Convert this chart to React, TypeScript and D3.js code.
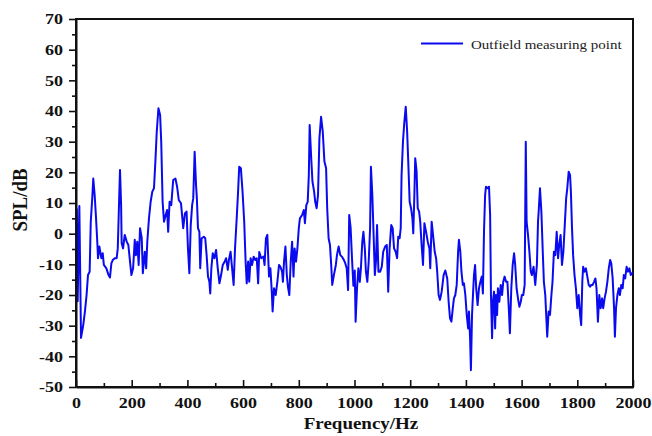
import React, { useEffect, useRef } from 'react';
import * as d3 from 'd3';

// Frequency (Hz) and SPL (dB)
const freqs = [
  0, 3, 6, 12, 18, 26, 32, 38, 43, 49, 53, 59, 62, 67, 72, 77, 79, 84, 91, 96,
  100, 109, 117, 122, 127, 132, 139, 146, 150, 153, 158, 162, 164, 169, 175, 182, 188, 194, 199,
  205, 211, 215, 220, 225, 230, 236, 240, 247, 252, 256, 262, 268, 274, 280, 285, 290, 296,
  302, 306, 311, 316, 322, 327, 331, 336, 342, 349, 357, 363, 369, 377, 385, 391, 397,
  402, 407, 412, 417, 421, 426, 431, 434, 438, 443, 446, 451, 459, 464, 469, 474, 479, 482, 486, 491, 497,
  503, 509, 515, 521, 527, 534, 539, 545, 549, 555, 560, 566, 571, 577, 582, 586, 592, 598,
  604, 609, 613, 618, 622, 627, 632, 638, 644, 649, 654, 658, 665, 673, 677, 682, 687, 693, 698,
  703, 706, 711, 717, 723, 729, 734, 740, 743, 747, 752, 757, 761, 766, 771, 776, 781, 785, 790, 795,
  800, 804, 812, 818, 822, 827, 832, 836, 839, 844, 849, 855, 859, 864, 869, 874, 880, 886, 892, 898,
  902, 907, 912, 917, 920, 926, 933, 937, 943, 949, 955, 962, 967, 972, 977, 981, 986, 991, 996,
  1001, 1004, 1009, 1014, 1019, 1023, 1028, 1032, 1037, 1041, 1046, 1051, 1056, 1059, 1064, 1069, 1073, 1077, 1081, 1086, 1092, 1098,
  1103, 1110, 1116, 1121, 1126, 1132, 1137, 1142, 1148, 1153, 1157, 1162, 1166, 1169, 1174, 1179, 1184, 1189, 1193, 1198,
  1203, 1208, 1211, 1215, 1218, 1223, 1227, 1232, 1236, 1241, 1246, 1251, 1257, 1263, 1269, 1272, 1277, 1282, 1288, 1293, 1297,
  1302, 1307, 1313, 1320, 1326, 1333, 1338, 1343, 1348, 1353, 1357, 1362, 1367, 1372, 1375, 1380, 1384, 1389, 1393, 1398,
  1403, 1408, 1411, 1415, 1418, 1422, 1426, 1429, 1433, 1437, 1442, 1447, 1452, 1457, 1461, 1465, 1469, 1472, 1478, 1483, 1487, 1490, 1494, 1497,
  1501, 1505, 1508, 1512, 1515, 1520, 1525, 1530, 1534, 1539, 1544, 1549, 1554, 1558, 1563, 1568, 1573, 1577, 1582, 1587, 1592, 1597,
  1601, 1606, 1611, 1615, 1618, 1623, 1628, 1633, 1637, 1643, 1649, 1655, 1659, 1662, 1666, 1671, 1676, 1680, 1685, 1690, 1692, 1697,
  1702, 1707, 1711, 1716, 1721, 1726, 1731, 1735, 1740, 1745, 1750, 1755, 1760, 1764, 1769, 1774, 1777, 1781, 1785, 1790, 1795,
  1800, 1805, 1810, 1814, 1818, 1821, 1826, 1831, 1836, 1841, 1846, 1850, 1855, 1860, 1865, 1869, 1874, 1879, 1884, 1889, 1893, 1898,
  1903, 1908, 1913, 1918, 1922, 1927, 1932, 1935, 1939, 1944, 1949, 1953, 1958, 1963, 1967, 1972, 1977, 1982, 1987, 1992, 1996, 2000,
];

const spl = [
  -5, 8, -22, 9, -34, -29.8, -25.4, -20, -13.5, -12.4, 3.9, 12.6, 18, 12.6, 5, -3.7, -8, -4.2, -8, -6.4,
  -10.2, -11.3, -13.5, -14.3, -9.7, -8.6, -8, -8, -4.8, 5, 20.8, 9.3, -3.1, -4.8, -0.4, -2.6, -3.7, -9.1, -13.5,
  -11.3, -2, -7, -2.6, -10.2, 1.8, -1.5, -12.9, -5.9, -11.3, -2.6, 5, 10.4, 13.7, 14.8, 23.5, 33.3, 40.9,
  38.7, 30, 10.4, 3.9, 6.1, 7.7, 0.6, 10.4, 9.3, 17.5, 18, 15.3, 11, 9.9, 1.8, 6.6, 7.2,
  -4.8, -12.9, 2.8, 9.3, 11.5, 26.7, 15.9, 11.5, 1.8, 0.6, -11.3, -1.5, -1, -1.5, -7, -14, -15.7, -19.5, -11.3, -6.4, -8,
  -5.3, -11.3, -16.2, -13.5, -10.2, -9.1, -8, -11.8, -8.6, -5.9, -10.8, -16.7, -4.8, 5, 13.7, 21.8, 21.3, 13.7,
  3.9, -9.1, -16.2, -9.1, -15.7, -8, -10.2, -7.5, -8.6, -8, -16.2, -6, -8, -7.5, -10.2, -1.5, -0.4, -14, -11.3,
  -18.9, -25.4, -17.8, -20, -15.7, -10.2, -10.8, -12.4, -15.7, -9.1, -4.2, -13.5, -17.3, -20, -9.1, -2.6, -14, -4.8, -9.1, -4.8,
  1.8, 5, 6.1, 7.7, 3.4, 9.3, 10.4, 19.1, 35.4, 25.6, 17, 13.7, 10.4, 8.3, 12.6, 31.1, 38.1, 33.3, 23.5, 21.3,
  8.3, -1.5, -3.7, -11.3, -16.7, -13.5, -10.2, -7, -4.2, -7, -7.5, -8.6, -9.7, -11.3, -18.4, 6.1, 2, -8, -17,
  -12, -28.7, -17.8, -11.3, -15.7, -11.3, -2.6, 0.6, -4.8, -12.4, -15.7, -9.1, 1.8, 21.8, 12.6, -1.5, -13.5, -9.1, 2.8, -12.4, -12.4, -10.8,
  -5.9, -4.2, -3.7, -18.9, -4.8, 2.8, 1.8, -4.8, -5.9, -8, -1, -1.5, 1.8, 19.1, 30, 36.5, 41.4, 33.3, 23.5, 10.4,
  8.3, 5, 0.1, 12.6, 24.6, 20.2, 8.3, 7.2, 3.9, -3.7, -10.2, 3.4, 0.6, -2.6, -4.8, -11.3, 3.9, -0.4, -5.9, -8, -12.4,
  -20, -21.6, -18.9, -13.5, -12, -14.6, -22.2, -27.6, -28.7, -24.3, -21.1, -20, -16.7, -5.9, -2, -5.9, -12.4, -16.7, -16.2, -20,
  -26.5, -30.9, -25.4, -34.1, -44.5, -26.5, -18.9, -13.5, -10.2, -17.8, -23.3, -17.8, -15.7, -14, -19.5, 0.6, 12.6, 15.3, 14.8, 15.3, 6.1, -20, -34.1, -22.2,
  -18.9, -30.9, -20, -26.5, -17.8, -22.2, -16.7, -20, -15.7, -14, -15.7, -15.7, -24.3, -32.5, -17.8, -10.2, -6.4, -10.2, -17.8, -21.1, -23.8, -22.2,
  -20, -20, -16.7, 30, 3.9, -0.4, -5.9, -12.4, -13.5, -10.8, -16.7, -10, 4, 8.3, 14.8, 7.2, -5.9, -15.7, -20, -29.8, -33.6, -25.4,
  -26.5, -20, -15.7, -5.9, -7, 0.6, -8, -3.7, -0.4, -10.2, -5.9, 2.8, 11.5, 14.8, 20.2, 19.1, 13.7, 1.8, -7, -13.5, -17.8,
  -24.3, -20, -26.5, -29.8, -15.7, -10.8, -12.4, -11.3, -14, -16.7, -17.3, -16.7, -16.7, -15.7, -14.6, -17.8, -28.7, -20, -24.3, -21.1, -24.3, -21.1,
  -18.9, -15.7, -11.3, -8.6, -9.7, -14.6, -24.3, -33.6, -24.3, -20, -17.8, -20, -16.7, -17.8, -13.5, -14.6, -10.8, -12.4, -11.3, -13.5, -12.9, -13,
];

const xTicks = [0, 200, 400, 600, 800, 1000, 1200, 1400, 1600, 1800, 2000];
const yTicks = [-50, -40, -30, -20, -10, 0, 10, 20, 30, 40, 50, 60, 70];
const seriesName = 'Outfield measuring point';
const xTitle = 'Frequency/Hz';
const yTitle = 'SPL/dB';

const SERIF = '"Liberation Serif", "Times New Roman", serif';
const BLUE = '#0a0af0';

const SpectrumChart = () => {
  const svgRef = useRef<SVGSVGElement>(null);

  useEffect(() => {
    const left = 76, right = 633, top = 19, bottom = 387;
    const squash = 0.86;

    const svg = d3.select(svgRef.current);
    svg.selectAll('*').remove();

    const x = d3.scaleLinear().domain([0, 2000]).range([left, right]);
    const y = d3.scaleLinear().domain([-50, 70]).range([bottom, top]);

    const data = freqs.map((f, i) => ({ f, v: spl[i] }));

    // frame
    svg.append('rect')
      .attr('x', left).attr('y', top)
      .attr('width', right - left).attr('height', bottom - top)
      .attr('fill', 'none').attr('stroke', '#111').attr('stroke-width', 2);

    // the spectrum
    const line = d3.line<{ f: number; v: number }>()
      .x(d => x(d.f))
      .y(d => y(d.v));

    svg.append('path')
      .datum(data)
      .attr('fill', 'none')
      .attr('stroke', BLUE)
      .attr('stroke-width', 2)
      .attr('stroke-linejoin', 'round')
      .attr('d', line);

    // y axis, ticks point outward
    const yMinor = d3.range(-45, 70, 10);
    svg.append('g')
      .attr('transform', `translate(${left},0)`)
      .call(d3.axisLeft(y).tickValues(yMinor).tickSize(4).tickSizeOuter(0).tickFormat(() => ''))
      .call(g => g.select('.domain').remove());

    const yAxis = svg.append('g')
      .attr('transform', `translate(${left},0)`)
      .call(d3.axisLeft(y).tickValues(yTicks).tickSize(7).tickSizeOuter(0).tickPadding(6).tickFormat(d => String(d)));

    // x axis, ticks point inward
    const xMinor = d3.range(100, 2000, 200);
    svg.append('g')
      .attr('transform', `translate(0,${bottom})`)
      .call(d3.axisBottom(x).tickValues(xMinor).tickSize(-4).tickSizeOuter(0).tickFormat(() => ''))
      .call(g => g.select('.domain').remove());

    const xAxis = svg.append('g')
      .attr('transform', `translate(0,${bottom})`)
      .call(d3.axisBottom(x).tickValues(xTicks).tickSize(-7).tickSizeOuter(0).tickFormat(d => String(d)));

    [yAxis, xAxis].forEach(ax => {
      ax.select('.domain').attr('stroke', '#111').attr('stroke-width', 2);
      ax.selectAll('.tick text')
        .attr('font-family', SERIF)
        .attr('font-size', 18)
        .attr('font-weight', 'bold')
        .attr('fill', '#111')
        .attr('transform', `scale(1,${squash})`);
    });
    svg.selectAll('g .tick line').attr('stroke', '#111').attr('stroke-width', 1.6);

    xAxis.selectAll('.tick text').attr('y', 25).attr('dy', null);

    // axis titles
    svg.append('text')
      .attr('transform', `translate(361,429) scale(1,${squash})`)
      .attr('text-anchor', 'middle')
      .attr('font-family', SERIF)
      .attr('font-size', 19)
      .attr('font-weight', 'bold')
      .attr('fill', '#111')
      .text(xTitle);

    svg.append('text')
      .attr('transform', `translate(27,200) rotate(-90) scale(${squash},1)`)
      .attr('text-anchor', 'middle')
      .attr('font-family', SERIF)
      .attr('font-size', 22)
      .attr('font-weight', 'bold')
      .attr('fill', '#111')
      .text(yTitle);

    // legend
    svg.append('line')
      .attr('x1', 421).attr('x2', 463)
      .attr('y1', 43.5).attr('y2', 43.5)
      .attr('stroke', BLUE).attr('stroke-width', 2);

    svg.append('text')
      .attr('transform', `translate(471,49) scale(1,${squash})`)
      .attr('font-family', SERIF)
      .attr('font-size', 15)
      .attr('fill', '#222')
      .text(seriesName);
  }, []);

  return (
    <svg
      ref={svgRef}
      width={652}
      height={436}
      style={{ position: 'absolute', left: 0, top: 0, background: '#fff' }}
    />
  );
};

export default function App() {
  return <SpectrumChart />;
}
